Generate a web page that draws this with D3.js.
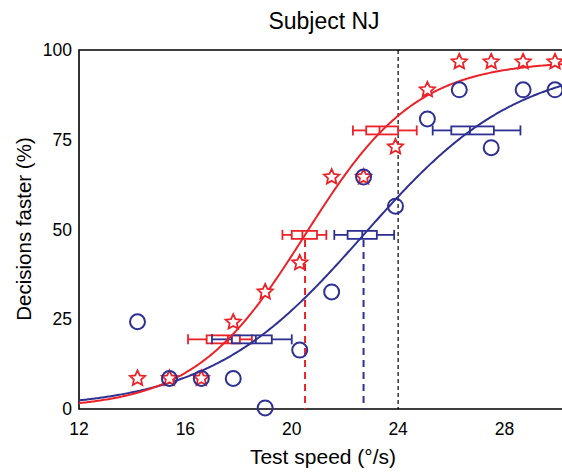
<!DOCTYPE html>
<html>
<head>
<meta charset="utf-8">
<script src="https://cdn.jsdelivr.net/npm/d3@7"></script>
<style>
  body { margin: 0; background: #fff; }
  text { font-family: "Liberation Sans", Arial, Helvetica, sans-serif; fill: #000; }
</style>
</head>
<body>
<div id="my_dataviz"></div>
<script>
  // test speeds (deg/s) and percentage of "faster" decisions
  var speeds = [14.2, 15.4, 16.6, 17.8, 19.0, 20.3, 21.5, 22.7, 23.9, 25.1, 26.3, 27.5, 28.7, 29.9];
  var redPct  = [8.5, 8.5, 8.5, 24.2, 32.6, 40.7, 64.6, 64.6, 73.0, 88.9, 96.7, 96.7, 96.7, 96.7];
  var bluePct = [24.3, 8.5, 8.5, 8.5, 0.3, 16.4, 32.6, 64.6, 56.5, 80.8, 88.9, 72.8, 88.9, 88.9];

  // fitted logistic: [midpoint, slope, ceiling]
  var redFit  = [20.5, 2.09, 97];
  var blueFit = [22.7, 2.91, 97];

  // bootstrap box plots at three levels
  var boxLevels = [19.4, 48.5, 77.6];
  var redBox = {lo: [16.1, 19.65, 22.3], q1: [16.8, 20.0, 22.8], med: [17.6, 20.4, 23.3], q3: [18.05, 20.95, 24.0], hi: [18.5, 21.3, 24.7]};
  var blueBox = {lo: [17.0, 21.6, 25.3], q1: [17.75, 22.1, 26.0], med: [18.65, 22.65, 26.7], q3: [19.25, 23.2, 27.6], hi: [20.0, 23.85, 28.6]};

  var xTicks = [12, 16, 20, 24, 28];
  var yTicks = [0, 25, 50, 75, 100];
  var refSpeed = 24;

  var red = "#ec2229", blue = "#2e3192";

  var W = 562, H = 472;
  var svg = d3.select("#my_dataviz").append("svg")
      .attr("width", W)
      .attr("height", H);

  var x = d3.scaleLinear().domain([12, 30.2]).range([79, 563]);
  var y = d3.scaleLinear().domain([0, 100]).range([409, 50]);

  // frame
  svg.append("path")
      .attr("d", "M" + x.range()[1] + "," + y(100) + "H" + x(12) + "V" + y(0) + "H" + x.range()[1])
      .attr("fill", "none")
      .attr("stroke", "#000")
      .attr("stroke-width", 1.6);

  // tick labels
  svg.append("g").selectAll("text")
    .data(xTicks).enter().append("text")
      .attr("x", function(d) { return x(d); })
      .attr("y", 435)
      .attr("text-anchor", "middle")
      .style("font-size", "17.5px")
      .text(function(d) { return d; });

  svg.append("g").selectAll("text")
    .data(yTicks).enter().append("text")
      .attr("x", 72)
      .attr("y", function(d) { return y(d); })
      .attr("dy", "0.35em")
      .attr("text-anchor", "end")
      .style("font-size", "17.5px")
      .text(function(d) { return d; });

  // axis titles
  svg.append("text")
      .attr("x", 324).attr("y", 29)
      .attr("text-anchor", "middle")
      .style("font-size", "23px")
      .text("Subject NJ");

  svg.append("text")
      .attr("x", 323).attr("y", 464)
      .attr("text-anchor", "middle")
      .style("font-size", "21px")
      .text("Test speed (°/s)");

  svg.append("text")
      .attr("transform", "translate(31,229) rotate(-90)")
      .attr("text-anchor", "middle")
      .style("font-size", "20.5px")
      .text("Decisions faster (%)");

  // reference speed
  svg.append("line")
      .attr("x1", x(refSpeed)).attr("x2", x(refSpeed))
      .attr("y1", y(100)).attr("y2", y(0))
      .attr("stroke", "#000")
      .attr("stroke-width", 1.2)
      .attr("stroke-dasharray", "4,3");

  // PSE lines
  [[redFit, red], [blueFit, blue]].forEach(function(p) {
    svg.append("line")
        .attr("x1", x(p[0][0])).attr("x2", x(p[0][0]))
        .attr("y1", y(boxLevels[1]) + 5).attr("y2", y(0))
        .attr("stroke", p[1])
        .attr("stroke-width", 2)
        .attr("stroke-dasharray", "7,5");
  });

  // box plots
  function drawBoxes(b, col) {
    var g = svg.append("g").attr("stroke", col).attr("fill", "none").attr("stroke-width", 1.8);
    boxLevels.forEach(function(lv, i) {
      var cy = y(lv);
      g.append("line").attr("x1", x(b.lo[i])).attr("x2", x(b.q1[i])).attr("y1", cy).attr("y2", cy);
      g.append("line").attr("x1", x(b.q3[i])).attr("x2", x(b.hi[i])).attr("y1", cy).attr("y2", cy);
      g.append("line").attr("x1", x(b.lo[i])).attr("x2", x(b.lo[i])).attr("y1", cy - 5).attr("y2", cy + 5);
      g.append("line").attr("x1", x(b.hi[i])).attr("x2", x(b.hi[i])).attr("y1", cy - 5).attr("y2", cy + 5);
      g.append("rect")
          .attr("x", x(b.q1[i])).attr("y", cy - 4)
          .attr("width", x(b.q3[i]) - x(b.q1[i])).attr("height", 8);
      g.append("line").attr("x1", x(b.med[i])).attr("x2", x(b.med[i])).attr("y1", cy - 4).attr("y2", cy + 4);
    });
  }
  drawBoxes(redBox, red);
  drawBoxes(blueBox, blue);

  // fitted curves
  function logistic(p) {
    return function(s) { return p[2] / (1 + Math.exp(-(s - p[0]) / p[1])); };
  }
  var curveX = d3.range(12, 30.25, 0.05);
  var line = d3.line()
      .x(function(d) { return x(d[0]); })
      .y(function(d) { return y(d[1]); });
  [[blueFit, blue], [redFit, red]].forEach(function(p) {
    var f = logistic(p[0]);
    svg.append("path")
        .datum(curveX.map(function(s) { return [s, f(s)]; }))
        .attr("d", line)
        .attr("fill", "none")
        .attr("stroke", p[1])
        .attr("stroke-width", 2);
  });

  // star marker path
  function starPath(R, r) {
    var pts = [];
    for (var k = 0; k < 10; k++) {
      var a = -Math.PI / 2 + k * Math.PI / 5;
      var rad = k % 2 ? r : R;
      pts.push([rad * Math.cos(a), rad * Math.sin(a)]);
    }
    return "M" + pts.join("L") + "Z";
  }

  svg.append("g").selectAll("path")
    .data(speeds).enter().append("path")
      .attr("transform", function(d, i) { return "translate(" + x(d) + "," + y(redPct[i]) + ")"; })
      .attr("d", starPath(8, 3.8))
      .attr("fill", "#fff")
      .attr("stroke", red)
      .attr("stroke-width", 1.8);

  svg.append("g").selectAll("circle")
    .data(speeds).enter().append("circle")
      .attr("cx", function(d) { return x(d); })
      .attr("cy", function(d, i) { return y(bluePct[i]); })
      .attr("r", 7.5)
      .attr("fill", "none")
      .attr("stroke", blue)
      .attr("stroke-width", 2);
</script>
</body>
</html>
